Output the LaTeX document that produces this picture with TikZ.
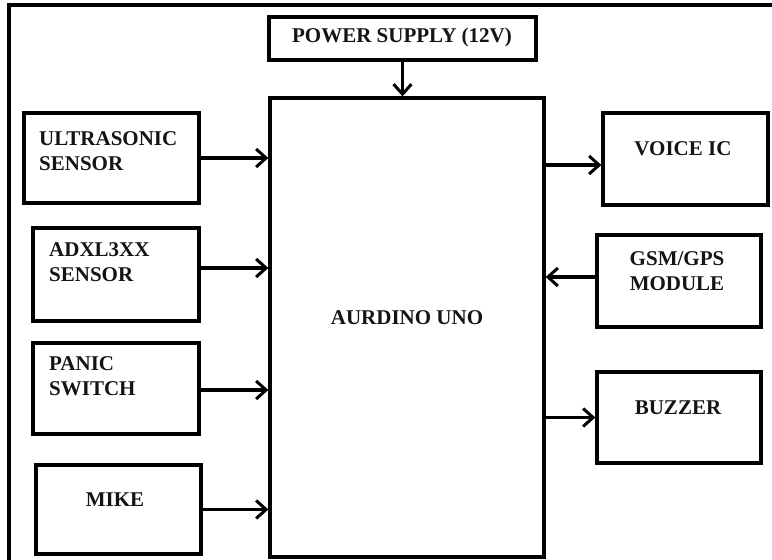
\documentclass[tikz,border=0pt]{standalone}
\usepackage{fontspec}
\setmainfont{Liberation Serif}
\usetikzlibrary{arrows.meta}
\begin{document}
\begin{tikzpicture}[x=1pt,y=-1pt,
  blk/.style={draw=black, line width=3.3pt, rectangle, inner sep=0pt, fill=white},
  lbl/.style={inner sep=0pt, font=\fontsize{21}{25}\selectfont\bfseries, text=black!92},
  arr/.style={line width=3.2pt, -{Straight Barb[length=10pt,width=18pt,line width=3pt]}}]
\useasboundingbox (0,0) rectangle (772,560);
\fill[white] (0,0) rectangle (772,560);
% outer frame (only left and top edges visible)
\coordinate (fbl) at (9,561);
\coordinate (ftl) at (9,5);
\coordinate (ftr) at (773,5);
\draw[line width=3.3pt] (fbl) -- (ftl) -- (ftr);
% boxes
\node[blk, minimum width=267pt, minimum height=43pt] (ps) at (402.5,38.5) {};
\node[blk, minimum width=274pt, minimum height=459pt] (main) at (407,327.5) {};
\node[blk, minimum width=175pt, minimum height=90pt] (us) at (111.5,158) {};
\node[blk, minimum width=166pt, minimum height=93pt] (adxl) at (116,274.5) {};
\node[blk, minimum width=166pt, minimum height=91pt] (panic) at (116,388.5) {};
\node[blk, minimum width=165pt, minimum height=89pt] (mike) at (118.5,509.5) {};
\node[blk, minimum width=165pt, minimum height=92pt] (voice) at (685.5,159) {};
\node[blk, minimum width=164pt, minimum height=92pt] (gsm) at (679,281) {};
\node[blk, minimum width=164pt, minimum height=91pt] (buzz) at (679,417.5) {};
% labels
\node[lbl] (psT) at (402,37) {POWER SUPPLY (12V)};
\node[lbl] (mainT) at (407,318) {AURDINO UNO};
\node[lbl, align=left, anchor=west] (usT) at (39,151) {ULTRASONIC\\SENSOR};
\node[lbl, align=left, anchor=west] (adxlT) at (49,262) {ADXL3XX\\SENSOR};
\node[lbl, align=left, anchor=west] (panicT) at (49,376) {PANIC\\SWITCH};
\node[lbl] (mikeT) at (115,500) {MIKE};
\node[lbl] (voiceT) at (683,149) {VOICE IC};
\node[lbl, align=center] (gsmT) at (677,271) {GSM/GPS\\MODULE};
\node[lbl] (buzzT) at (678,408) {BUZZER};
% connectors
\draw[arr] (ps.south) -- (ps.south |- main.north);
\draw[arr] (us.east) -- (us.east -| main.west);
\draw[arr] ([yshift=6.5pt]adxl.east) -- ([yshift=6.5pt]adxl.east -| main.west);
\draw[arr] ([yshift=-1.5pt]panic.east) -- ([yshift=-1.5pt]panic.east -| main.west);
\draw[arr] (mike.east) -- (mike.east -| main.west);
\draw[arr] ([yshift=-6pt]main.east |- voice.west) -- ([yshift=-6pt]voice.west);
\draw[arr] ([yshift=4pt]gsm.west) -- ([yshift=4pt]gsm.west -| main.east);
\draw[arr] (main.east |- buzz.west) -- (buzz.west);
\end{tikzpicture}
\end{document}
